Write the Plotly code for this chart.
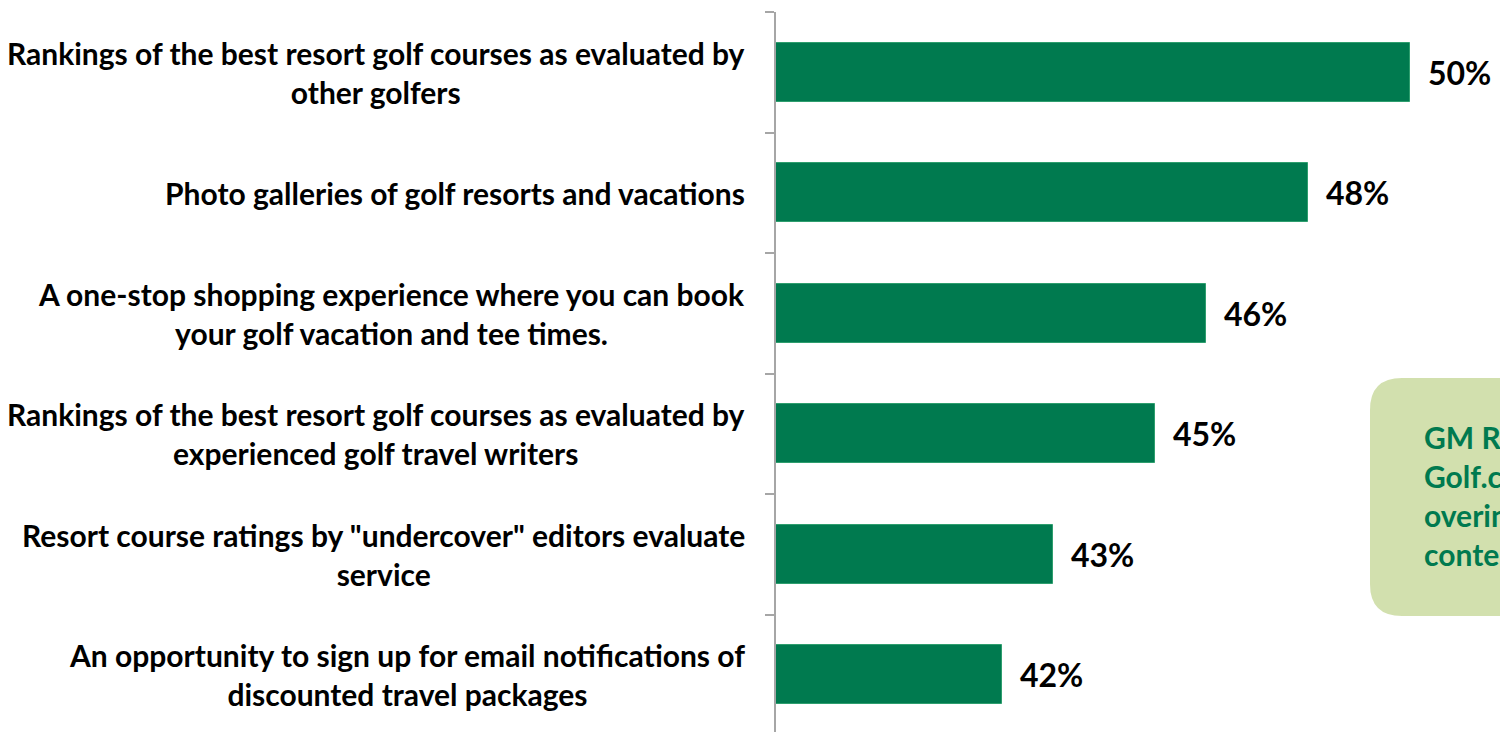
import plotly.graph_objects as go

# Survey items (top to bottom) and share of respondents
items = [
    "Rankings of the best resort golf courses as evaluated by<br>other golfers",
    "Photo galleries of golf resorts and vacations",
    "A one-stop shopping experience where you can book<br>your golf vacation and tee times.",
    "Rankings of the best resort golf courses as evaluated by<br>experienced golf travel writers",
    "Resort course ratings by \"undercover\" editors evaluate<br>service",
    "An opportunity to sign up for email notifications of<br>discounted travel packages",
]
values = [50, 48, 46, 45, 43, 42]
value_labels = [f"{v}%" for v in values]

callout_lines = ["GM Research:", "Golf.com users", "overindex on", "content"]

W, H = 1500, 732
ML, MR, MT, MB = 776, 0, 12, 0
GREEN = "#007A4F"
FONT = "Lato"

pos = list(range(len(items)))

fig = go.Figure()
fig.add_trace(go.Bar(
    x=values, y=pos, orientation="h", width=0.49,
    marker=dict(color=GREEN, line=dict(color="#2E9E6E", width=1)),
    base=0, hoverinfo="skip", showlegend=False,
))

annotations = []
for i, (lab, v, vl) in enumerate(zip(items, values, value_labels)):
    annotations.append(dict(
        xref="paper", x=0, yref="y", y=i, text=lab, showarrow=False,
        xanchor="right", yanchor="middle", align="center", xshift=-29,
        font=dict(family=FONT, size=30, color="black", weight="bold"),
    ))
    annotations.append(dict(
        xref="x", x=v, yref="y", y=i, text=vl, showarrow=False,
        xanchor="left", yanchor="middle", xshift=16,
        font=dict(family=FONT, size=32, color="black", weight="bold"),
    ))


def px_to_paper(px, py):
    return (px - ML) / (W - ML - MR), (H - MB - py) / (H - MT - MB)


def rounded_rect(x0, y0, x1, y1, r):
    # pixel-based rounded rectangle converted to paper coordinates
    def P(x, y):
        a, b = px_to_paper(x, y)
        return f"{a:.5f},{b:.5f}"
    return (f"M {P(x0 + r, y0)} L {P(x1 - r, y0)} Q {P(x1, y0)} {P(x1, y0 + r)} "
            f"L {P(x1, y1 - r)} Q {P(x1, y1)} {P(x1 - r, y1)} "
            f"L {P(x0 + r, y1)} Q {P(x0, y1)} {P(x0, y1 - r)} "
            f"L {P(x0, y0 + r)} Q {P(x0, y0)} {P(x0 + r, y0)} Z")


shapes = [dict(
    type="path", xref="paper", yref="paper",
    path=rounded_rect(1370, 378, 1620, 616, 32),
    fillcolor="#D2E0AE", line=dict(width=0), layer="below",
)]

cx, cy = px_to_paper(1422, 495)
annotations.append(dict(
    xref="paper", yref="paper", x=cx, y=cy, text="<br>".join(callout_lines),
    showarrow=False, xanchor="left", yanchor="middle", align="left",
    font=dict(family=FONT, size=30, color=GREEN, weight="bold"),
))

fig.update_layout(
    width=W, height=H,
    margin=dict(l=ML, r=MR, t=MT, b=MB, autoexpand=False),
    paper_bgcolor="white", plot_bgcolor="white",
    xaxis=dict(range=[37.58, 51.77], visible=False, fixedrange=True),
    yaxis=dict(
        range=[5.475, -0.5], showticklabels=False, ticks="",
        showline=True, linecolor="#A6A6A6", linewidth=2, showgrid=False,
        zeroline=False,
        minor=dict(tickmode="array", tickvals=[k - 0.5 for k in range(len(items) + 1)],
                   ticks="outside", ticklen=9, tickwidth=2, tickcolor="#A6A6A6",
                   showgrid=False),
    ),
    annotations=annotations, shapes=shapes,
    bargap=0,
)

fig.write_html("out.html")
